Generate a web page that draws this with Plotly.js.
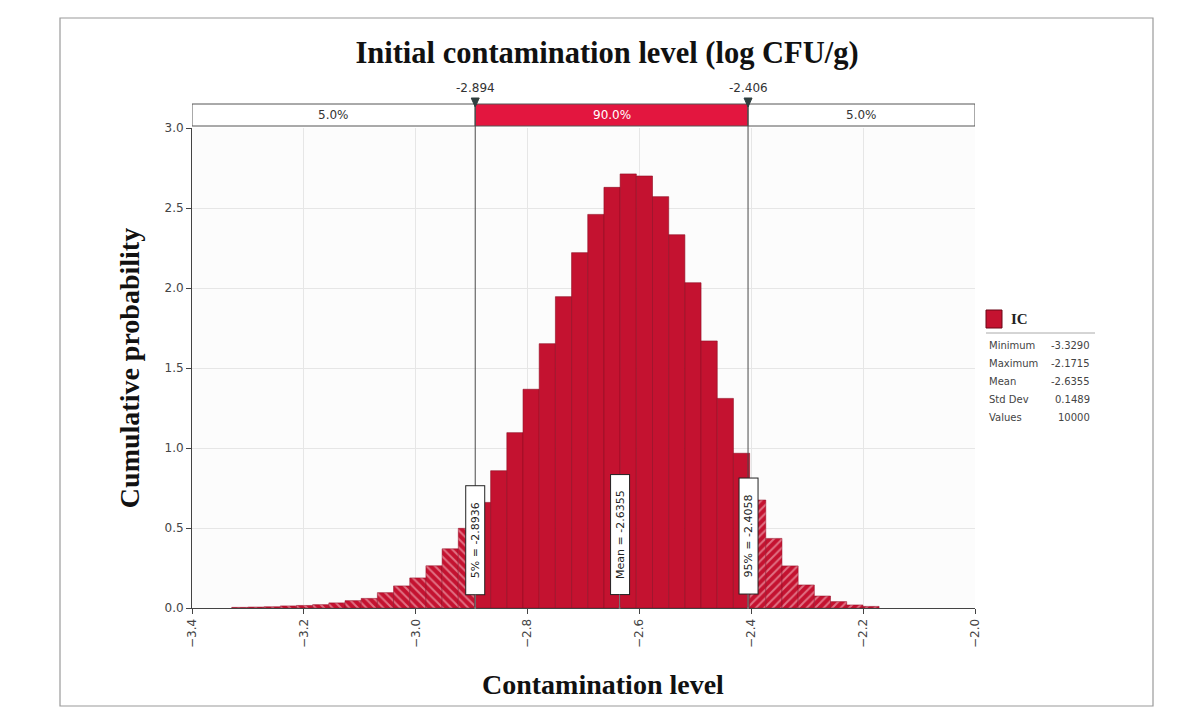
<!DOCTYPE html>
<html>
<head>
<meta charset="utf-8">
<script src="https://cdn.plot.ly/plotly-3.0.1.min.js"></script>
<style>html,body{margin:0;padding:0;background:#fff;}#chart{width:1191px;height:710px;}</style>
</head>
<body>
<div id="chart"></div>
<script>
// ---- data ----
const seriesName = "IC";
const sampleMin = -3.3290;
const sampleMax = -2.1715;
const sampleMean = -2.6355;
const sampleStd = 0.1489;
const sampleCount = 10000;
const p5 = -2.8936;
const p95 = -2.4058;
const bandLabels = ["5.0%", "90.0%", "5.0%"];
// probability density of each of the 40 equal bins from min to max
const density = [0.004,0.006,0.008,0.013,0.016,0.021,0.032,0.046,0.060,0.096,
                 0.138,0.188,0.264,0.370,0.498,0.660,0.858,1.096,1.367,1.652,
                 1.946,2.221,2.460,2.629,2.713,2.700,2.571,2.333,2.033,1.669,
                 1.310,0.967,0.675,0.435,0.263,0.144,0.075,0.040,0.019,0.010];
const statLabels = ["Minimum", "Maximum", "Mean", "Std Dev", "Values"];
const statValues = [sampleMin.toFixed(4), sampleMax.toFixed(4), sampleMean.toFixed(4), sampleStd.toFixed(4), String(sampleCount)];
const xTicks = [-3.4, -3.2, -3.0, -2.8, -2.6, -2.4, -2.2, -2.0];
const titleText = "Initial contamination level (log CFU/g)";
const xTitle = "Contamination level";
const yTitle = "Cumulative probability";

// ---- geometry helpers (pixel -> paper) ----
const L = 192, R = 975, T = 128, B = 608;
const px = v => (v - L) / (R - L);
const py = v => (B - v) / (B - T);

const nBins = density.length;
const bw = (sampleMax - sampleMin) / nBins;
const centers = density.map((_, i) => sampleMin + (i + 0.5) * bw);

const red = '#C41230', edge = '#8E0B22';
function pick(cond) {
  const x = [], y = [];
  centers.forEach((c, i) => { if (cond(c)) { x.push(c); y.push(density[i]); } });
  return {x, y};
}
const left = pick(c => c < p5), mid = pick(c => c >= p5 && c <= p95), right = pick(c => c > p95);

const traces = [
  {type:'bar', x:left.x, y:left.y, width:bw, showlegend:false, hoverinfo:'x+y',
   marker:{color:red, line:{color:edge, width:0.5},
           pattern:{shape:'\\', fillmode:'overlay', fgcolor:'rgba(255,220,226,0.95)', size:6, solidity:0.32}}},
  {type:'bar', x:mid.x, y:mid.y, width:bw, showlegend:false, hoverinfo:'x+y',
   marker:{color:red, line:{color:edge, width:0.6}}},
  {type:'bar', x:right.x, y:right.y, width:bw, showlegend:false, hoverinfo:'x+y',
   marker:{color:red, line:{color:edge, width:0.5},
           pattern:{shape:'/', fillmode:'overlay', fgcolor:'rgba(255,220,226,0.95)', size:6, solidity:0.32}}}
];

const bandTop = py(104), bandBot = py(126);
const xr0 = xTicks[0], xr1 = xTicks[xTicks.length-1];
const shapes = [
  // outer frame
  {type:'rect', xref:'paper', yref:'paper', x0:px(60), x1:px(1153), y0:py(706), y1:py(18),
   line:{color:'#9a9a9a', width:1.2}, fillcolor:'rgba(0,0,0,0)', layer:'below'},
  // top band
  {type:'rect', xref:'x', yref:'paper', x0:xr0, x1:p5, y0:bandBot, y1:bandTop, fillcolor:'#ffffff', line:{color:'#555', width:1}},
  {type:'rect', xref:'x', yref:'paper', x0:p5, x1:p95, y0:bandBot, y1:bandTop, fillcolor:'#E3163F', line:{color:'#555', width:1}},
  {type:'rect', xref:'x', yref:'paper', x0:p95, x1:xr1, y0:bandBot, y1:bandTop, fillcolor:'#ffffff', line:{color:'#555', width:1}},
  // percentile lines
  {type:'line', xref:'x', yref:'paper', x0:p5, x1:p5, y0:0, y1:py(100), line:{color:'#4a4a4a', width:1}},
  {type:'line', xref:'x', yref:'paper', x0:p95, x1:p95, y0:0, y1:py(100), line:{color:'#4a4a4a', width:1}},
  // legend swatch and rule
  {type:'rect', xref:'paper', yref:'paper', x0:px(986), x1:px(1002), y0:py(328), y1:py(310), fillcolor:red, line:{color:'#6a0716', width:1}},
  {type:'line', xref:'paper', yref:'paper', x0:px(986), x1:px(1095), y0:py(333), y1:py(333), line:{color:'#aaa', width:1}}
];
// triangle markers on top of the band
[p5, p95].forEach(p => {
  const hw = 4 * (xr1 - xr0) / (R - L);
  shapes.push({type:'path', xref:'x', yref:'paper',
    path:`M ${p-hw} ${py(98)} L ${p+hw} ${py(98)} L ${p} ${py(107)} Z`,
    fillcolor:'#2f3f3f', line:{color:'#2f3f3f', width:1}});
});

const sans = 'DejaVu Sans, Verdana, sans-serif';
const serif = 'Liberation Serif, Times New Roman, serif';
const mk = (o) => Object.assign({showarrow:false, xanchor:'center', yanchor:'middle'}, o);
const annotations = [
  mk({xref:'x', yref:'paper', x:(xr0+p5)/2, y:py(115), text:bandLabels[0], font:{family:sans, size:12, color:'#333'}}),
  mk({xref:'x', yref:'paper', x:(p5+p95)/2, y:py(115), text:bandLabels[1], font:{family:sans, size:12, color:'#fff'}}),
  mk({xref:'x', yref:'paper', x:(p95+xr1)/2, y:py(115), text:bandLabels[2], font:{family:sans, size:12, color:'#333'}}),
  mk({xref:'x', yref:'paper', x:p5, y:py(88), text:p5.toFixed(3), font:{family:sans, size:12, color:'#333'}}),
  mk({xref:'x', yref:'paper', x:p95, y:py(88), text:p95.toFixed(3), font:{family:sans, size:12, color:'#333'}}),
  // x-axis title
  mk({xref:'paper', yref:'paper', x:px(603), y:py(684), text:'<b>' + xTitle + '</b>', font:{family:serif, size:28, color:'#111'}}),
  // legend
  mk({xref:'paper', yref:'paper', x:px(1009), y:py(319), xanchor:'left', text:'<b>' + seriesName + '</b>', font:{family:serif, size:15, color:'#222'}})
];
statLabels.forEach((s, i) => {
  annotations.push(mk({xref:'paper', yref:'paper', x:px(987), y:py(345 + 18*i), xanchor:'left', text:s, font:{family:sans, size:10, color:'#444'}}));
  annotations.push(mk({xref:'paper', yref:'paper', x:px(1092), y:py(345 + 18*i), xanchor:'right', text:statValues[i], font:{family:sans, size:10, color:'#444'}}));
});
// value boxes on lines
const boxes = [
  {x:p5, text:'5% = ' + p5.toFixed(4), len:106},
  {x:sampleMean, text:'Mean = ' + sampleMean.toFixed(4), len:117},
  {x:p95, text:'95% = ' + p95.toFixed(4), len:113}
];
boxes.forEach(b => {
  annotations.push({xref:'x', yref:'y', x:b.x, y:0, ax:0, ay:-(15 + b.len/2), text:b.text, textangle:-90,
    width:b.len, height:16, showarrow:true, arrowhead:6, arrowsize:0.5, arrowwidth:1, arrowcolor:'#777', standoff:0,
    bgcolor:'#ffffff', bordercolor:'#222', borderwidth:1, borderpad:1, font:{family:sans, size:11, color:'#222'}});
});

const layout = {
  width:1191, height:710,
  margin:{l:L, r:1191-R, t:T, b:710-B, pad:0},
  paper_bgcolor:'#ffffff', plot_bgcolor:'#fcfcfc',
  bargap:0, barmode:'overlay',
  title:{text:'<b>' + titleText + '</b>', font:{family:serif, size:30.5, color:'#111'},
         xref:'paper', x:px(607), xanchor:'center', yref:'container', y:1-52/710, yanchor:'middle'},
  xaxis:{range:[xr0, xr1], tickvals:xTicks, tickformat:'.1f', tickangle:-90,
         showline:true, linecolor:'#444', linewidth:1, ticks:'outside', ticklen:5, tickcolor:'#444',
         showgrid:true, gridcolor:'#e6e6e6', zeroline:false, tickfont:{family:sans, size:12, color:'#444'}},
  yaxis:{range:[0, 3], dtick:0.5, tickformat:'.1f', showline:true, linecolor:'#444', linewidth:1,
         ticks:'outside', ticklen:5, tickcolor:'#444', showgrid:true, gridcolor:'#e6e6e6', zeroline:false,
         tickfont:{family:sans, size:12, color:'#444'},
         title:{text:'<b>' + yTitle + '</b>', font:{family:serif, size:28, color:'#111'}, standoff:16}},
  shapes:shapes, annotations:annotations, showlegend:false
};
Plotly.newPlot('chart', traces, layout, {displayModeBar:false, staticPlot:true});
</script>
</body>
</html>
